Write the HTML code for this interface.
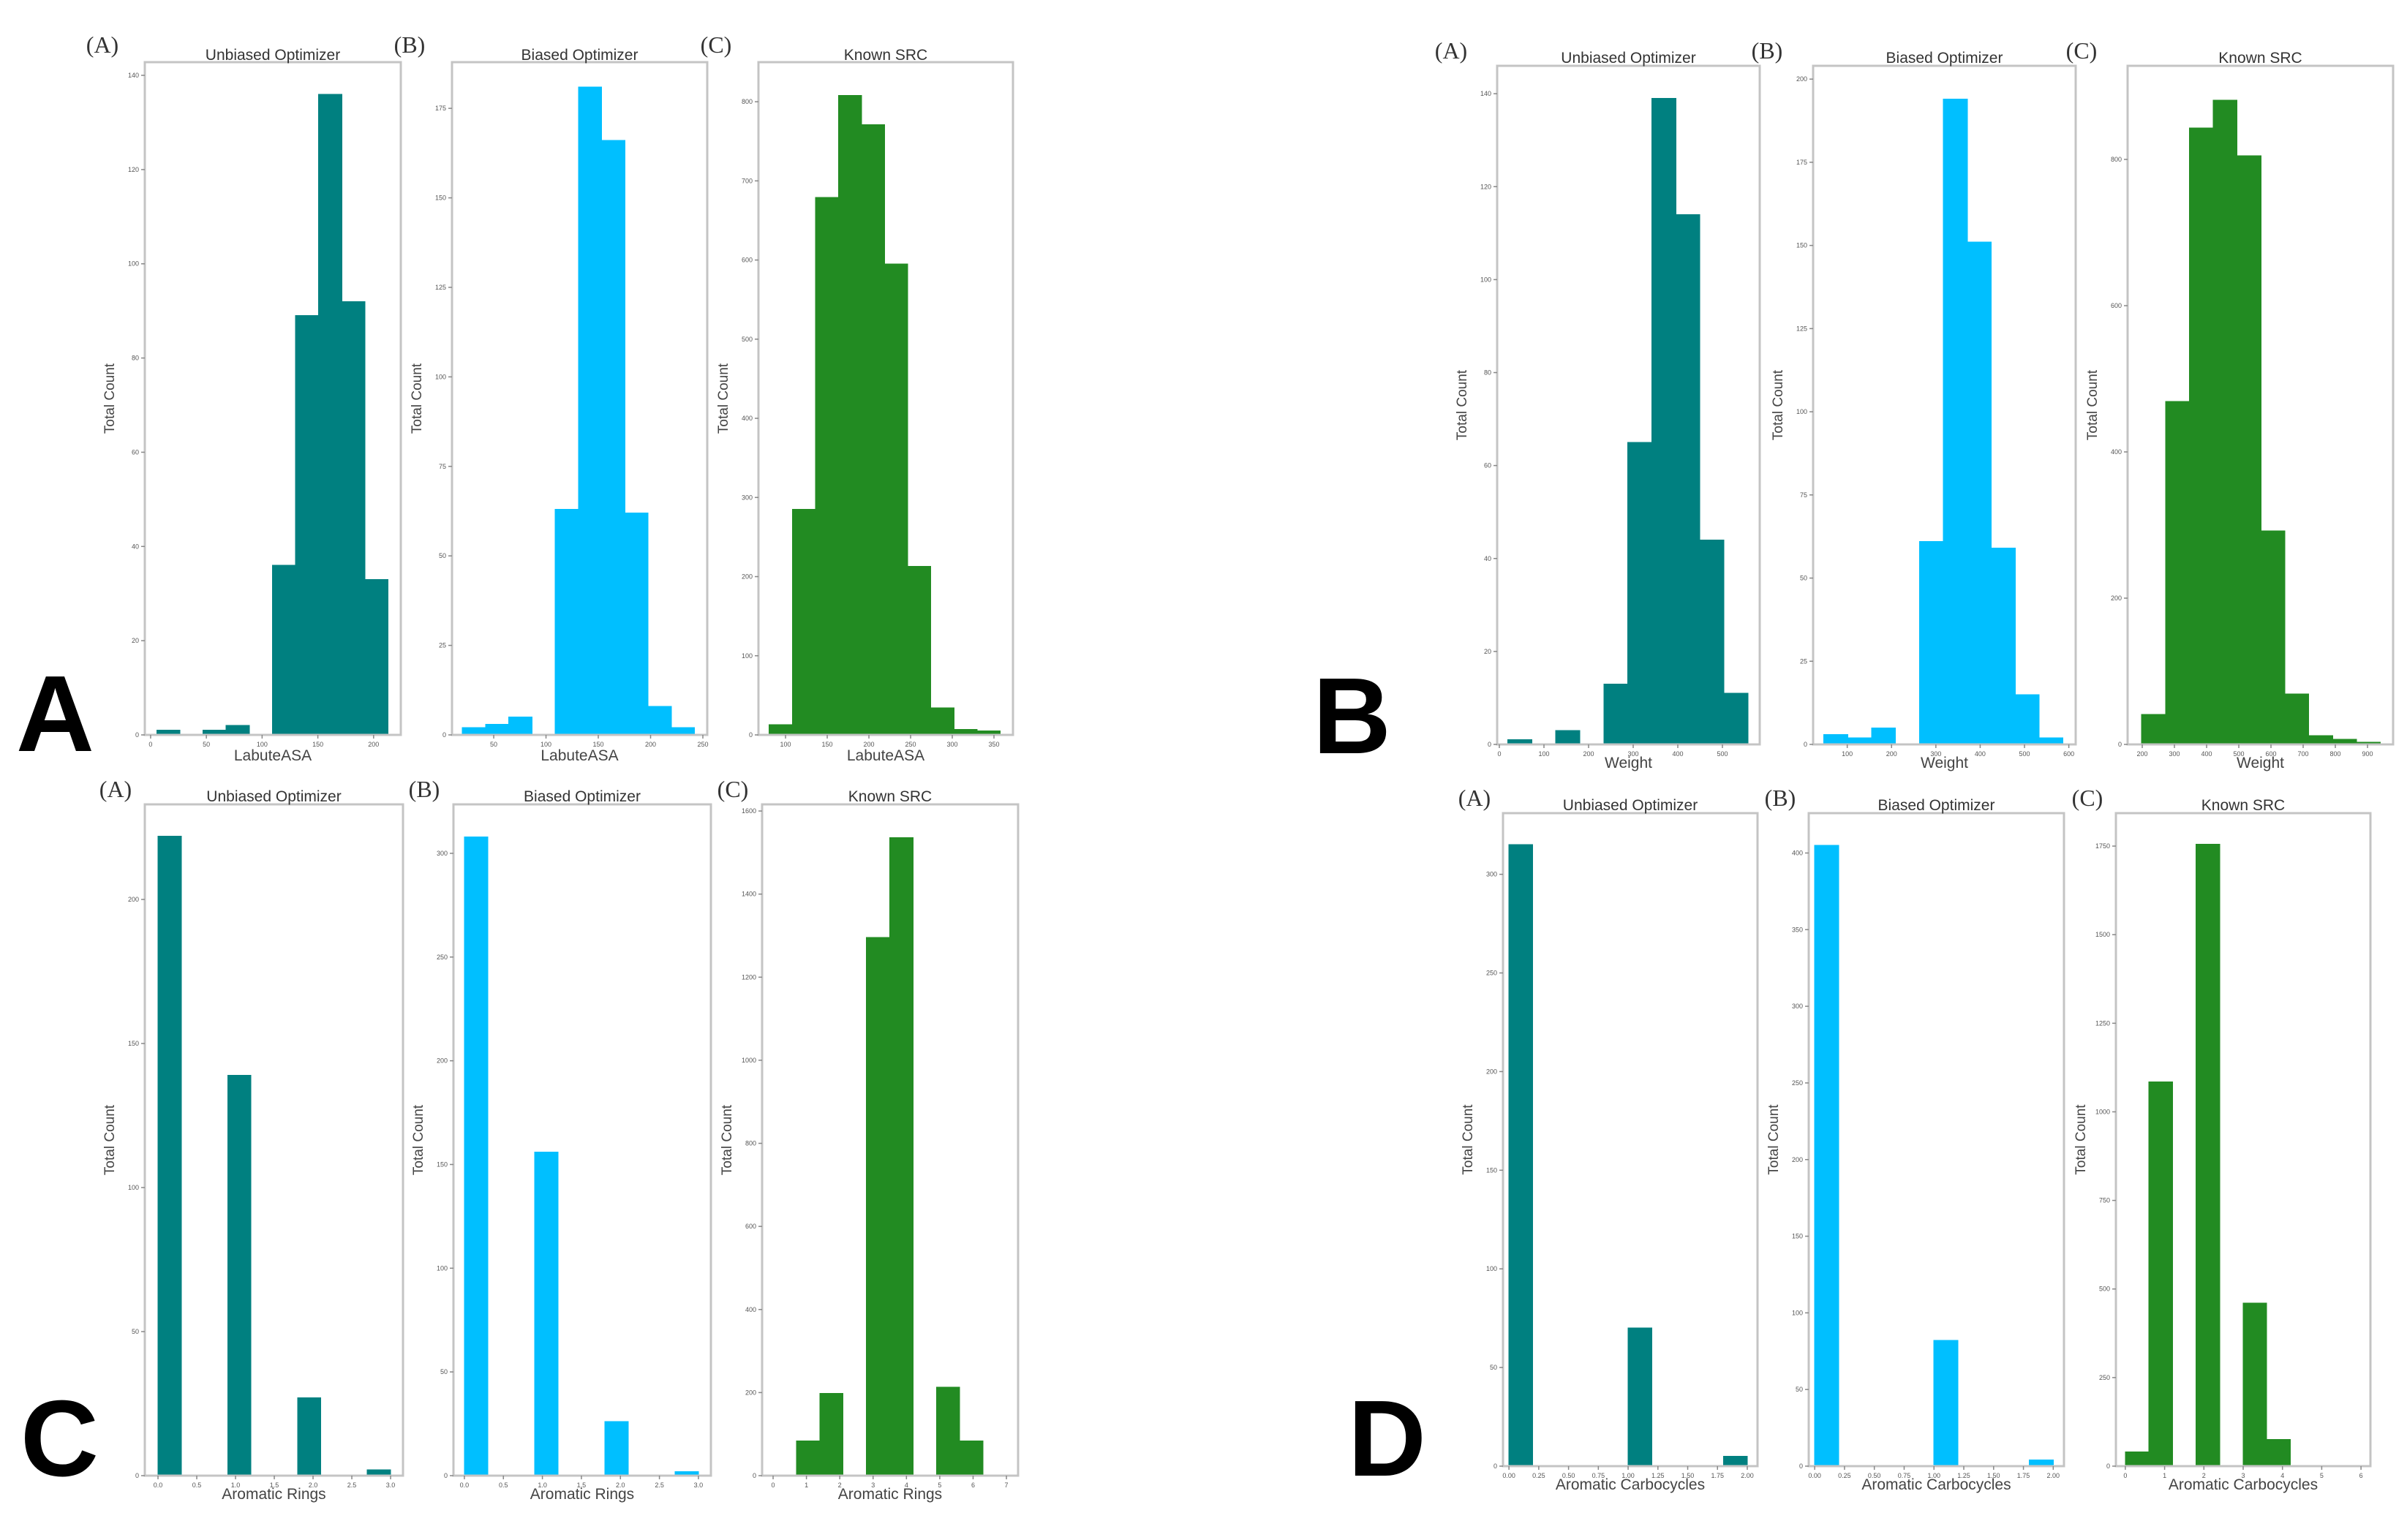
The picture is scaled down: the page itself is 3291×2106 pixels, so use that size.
<!DOCTYPE html>
<html><head><meta charset="utf-8"><style>
html,body{margin:0;padding:0;background:#fff;}
svg{display:block;}
</style></head><body>
<svg id="fig" width="3291" height="2106" viewBox="0 0 3291 2106" xmlns="http://www.w3.org/2000/svg"></svg>
<script>
// ---- data arrays ----
// Group A: LabuteASA
const labuteUnbiasedCounts = [1,0,1,2,0,36,89,136,92,33];
const labuteBiasedCounts = [2,3,5,0,63,181,166,62,8,2];
const labuteKnownCounts = [13,285,679,808,771,595,213,34,7,5];
// Group B: Weight
const weightUnbiasedCounts = [1,0,3,0,13,65,139,114,44,11];
const weightBiasedCounts = [3,2,5,0,61,194,151,59,15,2];
const weightKnownCounts = [41,469,843,881,805,292,69,12,7,3];
// Group C: Aromatic Rings
const ringsUnbiasedCounts = [222,0,0,139,0,0,27,0,0,2];
const ringsBiasedCounts = [308,0,0,156,0,0,26,0,0,2];
const ringsKnownCounts = [2,84,198,0,1296,1536,0,213,84,2];
// Group D: Aromatic Carbocycles
const carboUnbiasedCounts = [315,0,0,0,0,70,0,0,0,5];
const carboBiasedCounts = [405,0,0,0,0,82,0,0,0,4];
const carboKnownCounts = [40,1085,0,1755,0,460,75,0,2,1];
// bin edges (start, width)
const labuteBins = [[5.5,20.75],[20,22.2],[80.4,27.7]];
const weightBins = [[19,53.8],[47,54],[198,74.2]];
const ringsBins = [[0,0.3],[0,0.3],[0,0.7]];
const carboBins = [[0,0.2],[0,0.2],[0,0.6]];
// tick labels
const labuteXTicks = [[0,50,100,150,200],[50,100,150,200,250],[100,150,200,250,300,350]];
const weightXTicks = [[0,100,200,300,400,500],[100,200,300,400,500,600],[200,300,400,500,600,700,800,900]];
const ringsXTicks = [[0,0.5,1,1.5,2,2.5,3],[0,0.5,1,1.5,2,2.5,3],[0,1,2,3,4,5,6,7]];
const carboXTicks = [[0,0.25,0.5,0.75,1,1.25,1.5,1.75,2],[0,0.25,0.5,0.75,1,1.25,1.5,1.75,2],[0,1,2,3,4,5,6]];
const labuteYTicks = [[0,20,40,60,80,100,120,140],[0,25,50,75,100,125,150,175],[0,100,200,300,400,500,600,700,800]];
const weightYTicks = [[0,20,40,60,80,100,120,140],[0,25,50,75,100,125,150,175,200],[0,200,400,600,800]];
const ringsYTicks = [[0,50,100,150,200],[0,50,100,150,200,250,300],[0,200,400,600,800,1000,1200,1400,1600]];
const carboYTicks = [[0,50,100,150,200,250,300],[0,50,100,150,200,250,300,350,400],[0,250,500,750,1000,1250,1500,1750]];
const panelTitles = ["Unbiased Optimizer","Biased Optimizer","Known SRC"];
const panelTags = ["(A)","(B)","(C)"];
const colors = ["#008080","#00bfff","#228b22"];

// ---- layout (pixel geometry, not data) ----
const groups = [
  {key:"labute", letter:"A", lx:22, ly:1027, xlabel:"LabuteASA", counts:[labuteUnbiasedCounts,labuteBiasedCounts,labuteKnownCounts], bins:labuteBins, xt:labuteXTicks, yt:labuteYTicks, fmt:v=>String(v),
   frames:[[198,85,548,1005],[618,85,967,1005],[1037,85,1385,1005]], xd:[[-5.2,224.4],[10.1,254.2],[67.5,372.8]], ymax:[142.8,187.9,850], tagOff:-58, tagY:72, titleY:82, xlabY:1040},
  {key:"weight", letter:"B", lx:1795, ly:1030, xlabel:"Weight", counts:[weightUnbiasedCounts,weightBiasedCounts,weightKnownCounts], bins:weightBins, xt:weightXTicks, yt:weightYTicks, fmt:v=>String(v),
   frames:[[2047,90,2406,1018],[2479,90,2838,1018],[2909,90,3272,1018]], xd:[[-4.9,583.6],[23,615.5],[154.5,979.5]], ymax:[146,204,928], tagOff:-63, tagY:80, titleY:86, xlabY:1050},
  {key:"rings", letter:"C", lx:28, ly:2018, xlabel:"Aromatic Rings", counts:[ringsUnbiasedCounts,ringsBiasedCounts,ringsKnownCounts], bins:ringsBins, xt:ringsXTicks, yt:ringsYTicks, fmt:(v,i)=>i<2?v.toFixed(1):String(v),
   frames:[[198,1100,551,2018],[620,1100,972,2018],[1042,1100,1392,2018]], xd:[[-0.17,3.16],[-0.14,3.16],[-0.33,7.35]], ymax:[233,323.6,1616], tagOff:-40, tagY:1090, titleY:1096, xlabY:2050},
  {key:"carbo", letter:"D", lx:1843, ly:2018, xlabel:"Aromatic Carbocycles", counts:[carboUnbiasedCounts,carboBiasedCounts,carboKnownCounts], bins:carboBins, xt:carboXTicks, yt:carboYTicks, fmt:(v,i)=>i<2?v.toFixed(2):String(v),
   frames:[[2055,1112,2403,2005],[2473,1112,2822,2005],[2893,1112,3241,2005]], xd:[[-0.05,2.086],[-0.05,2.09],[-0.24,6.24]], ymax:[331,426,1843], tagOff:-39, tagY:1102, titleY:1108, xlabY:2037}
];

const NS="http://www.w3.org/2000/svg";
const svg=document.getElementById('fig');
function mk(tag,attrs,parent,text){
  const e=document.createElementNS(NS,tag);
  for(const k in attrs) e.setAttribute(k,attrs[k]);
  if(text!==undefined) e.textContent=text;
  (parent||svg).appendChild(e);
  return e;
}
const SANS='"Liberation Sans", "DejaVu Sans", sans-serif';
const SERIF='"Liberation Serif", serif';

groups.forEach(g=>{
  const gg=mk('g',{});
  
  
  const L=mk('text',{x:g.lx,y:g.ly,'font-family':SANS,'font-weight':'bold','font-size':148,fill:'#000'},gg,g.letter);
  
  
  for(let p=0;p<3;p++){
    const [x0,y0,x1,y1]=g.frames[p];
    const [dmin,dmax]=g.xd[p];
    const ymax=g.ymax[p];
    const sx=v=>x0+(v-dmin)/(dmax-dmin)*(x1-x0);
    const sy=v=>y1-v/ymax*(y1-y0);
    const pg=mk('g',{},gg);
    
    
    // bars
    const [bs,bw]=g.bins[p];
    g.counts[p].forEach((c,i)=>{
      if(c<=0) return;
      const xa=sx(bs+i*bw), xb=sx(bs+(i+1)*bw);
      const r=mk('rect',{x:xa,y:sy(c),width:xb-xa,height:sy(0)-sy(c),fill:colors[p],stroke:colors[p],'stroke-width':1,'shape-rendering':'crispEdges'},pg);
      
      
    });
    // frame
    const fr=mk('rect',{x:x0,y:y0,width:x1-x0,height:y1-y0,fill:'none',stroke:'#c4c4c4','stroke-width':3},pg);
    
    
    // y ticks
    g.yt[p].forEach(v=>{
      const y=sy(v);
      mk('line',{x1:x0-5,x2:x0,y1:y,y2:y,stroke:'#888','stroke-width':1.5},pg);
      const t=mk('text',{x:x0-8,y:y+3,'font-family':SANS,'font-size':9,fill:'#555','text-anchor':'end'},pg,String(v));
      
      
    });
    // x ticks
    g.xt[p].forEach(v=>{
      const x=sx(v);
      mk('line',{x1:x,x2:x,y1:y1,y2:y1+5,stroke:'#888','stroke-width':1.5},pg);
      const t=mk('text',{x:x,y:y1+16,'font-family':SANS,'font-size':9,fill:'#555','text-anchor':'middle'},pg,g.fmt(v,p));
      
      
    });
    const cx=(x0+x1)/2;
    const ti=mk('text',{x:cx,y:g.titleY,'font-family':SANS,'font-size':21,fill:'#333','text-anchor':'middle'},pg,panelTitles[p]);
    
    
    const tg=mk('text',{x:x0+g.tagOff,y:g.tagY,'font-family':SERIF,'font-size':32,fill:'#333','text-anchor':'middle'},pg,panelTags[p]);
    
    
    const xl=mk('text',{x:cx,y:g.xlabY,'font-family':SANS,'font-size':21,fill:'#444','text-anchor':'middle'},pg,g.xlabel);
    
    
    const ly=(y0+y1)/2, lx=x0-42;
    const yl=mk('text',{x:lx,y:ly,'font-family':SANS,'font-size':19,fill:'#444','text-anchor':'middle',transform:'rotate(-90 '+lx+' '+ly+')'},pg,'Total Count');
    
    
  }
});
</script>
</body></html>
